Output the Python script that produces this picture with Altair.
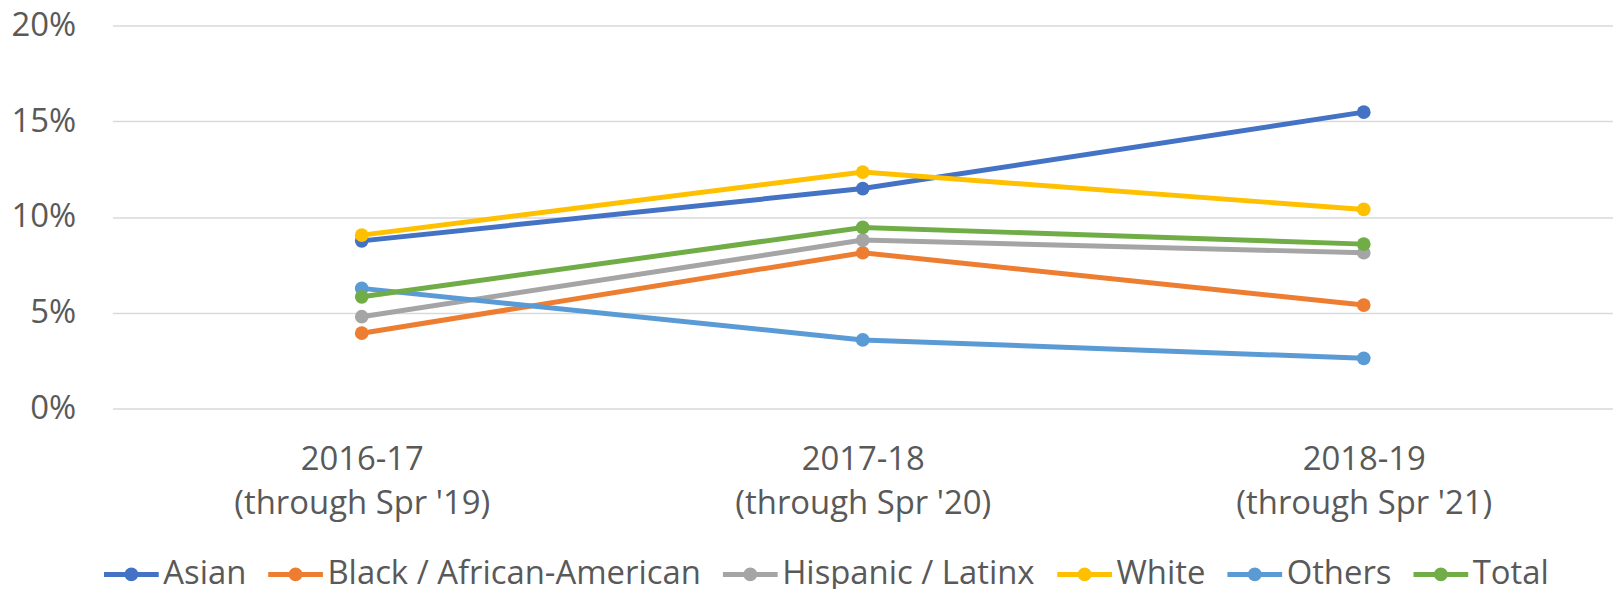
import altair as alt
import pandas as pd

categories = ["2016-17\n(through Spr '19)", "2017-18\n(through Spr '20)", "2018-19\n(through Spr '21)"]
series = ["Asian", "Black / African-American", "Hispanic / Latinx", "White", "Others", "Total"]
colors = ["#4472C4", "#ED7D31", "#A5A5A5", "#FFC000", "#5B9BD5", "#70AD47"]

asian = [8.75, 11.48, 15.47]
black = [3.93, 8.13, 5.40]
hispanic = [4.79, 8.79, 8.13]
white = [9.05, 12.34, 10.39]
others = [6.27, 3.58, 2.62]
total = [5.83, 9.45, 8.58]

y_ticks = [0, 5, 10, 15, 20]

rows = []
for i, (s, vals) in enumerate(zip(series, [asian, black, hispanic, white, others, total])):
    for c, v in zip(categories, vals):
        rows.append({"period": c, "group": s, "value": v, "order": i})
df = pd.DataFrame(rows)

FONT = "Open Sans"
TXT = "#595959"
FS = 33

legend_symbol = (
    "M-5.5,0L5.5,0"
    "M0.9,0A0.9,0.9,0,1,1,-0.9,0A0.9,0.9,0,1,1,0.9,0"
    "M0.4,0A0.4,0.4,0,1,1,-0.4,0A0.4,0.4,0,1,1,0.4,0"
)

x_enc = alt.X(
    "period:N",
    sort=categories,
    scale=alt.Scale(type="point", padding=0.4975, align=0.5),
    axis=alt.Axis(
        title=None, labelAngle=0, labelExpr="split(datum.label, '\\n')",
        labelLineHeight=45, labelPadding=35, ticks=False, tickSize=0,
        domain=False, grid=False, labelFontSize=FS, labelColor=TXT,
        labelLimit=0, labelOverlap=False, labelFont=FONT,
    ),
)
y_enc = alt.Y(
    "value:Q",
    scale=alt.Scale(domain=[0, 20], nice=False),
    axis=alt.Axis(
        values=y_ticks, labelExpr="datum.value + '%'", title=None,
        ticks=False, tickSize=0, domain=False, labelPadding=37,
        grid=True, gridColor="#D9D9D9", gridWidth=1.5,
        labelFontSize=FS, labelColor=TXT, labelFont=FONT,
    ),
)
color_enc = alt.Color(
    "group:N",
    sort=series,
    scale=alt.Scale(domain=series, range=colors),
    legend=alt.Legend(
        orient="none", legendX=2.5, legendY=535, direction="horizontal",
        title=None, symbolType=legend_symbol, symbolSize=100,
        symbolStrokeWidth=5, labelOffset=15.5, columnPadding=12,
        labelFontSize=FS, labelColor=TXT, labelFont=FONT, labelLimit=0,
        padding=0, columns=6, symbolOpacity=1,
    ),
)

lines = alt.Chart(df).mark_line(strokeWidth=5).encode(
    x=x_enc, y=y_enc, color=color_enc, order="order:Q"
)
points = alt.Chart(df).mark_circle(size=190, opacity=1).encode(
    x=x_enc, y=y_enc, color=color_enc, order="order:Q"
)

chart = (
    alt.layer(lines, points)
    .properties(
        width=1508, height=385,
        autosize=alt.AutoSizeParams(type="none"),
        padding={"left": 105, "top": 16, "right": 0, "bottom": 190},
    )
    .configure(font=FONT, background="white")
    .configure_view(stroke=None)
)

chart.save("out.html", embed_options={"renderer": "svg", "actions": False})
